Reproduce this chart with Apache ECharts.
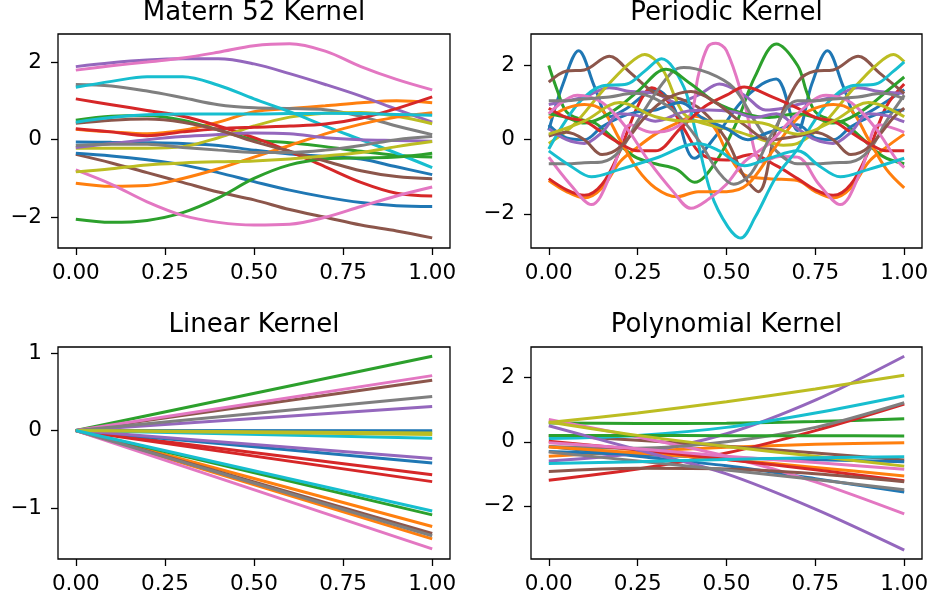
<!DOCTYPE html>
<html><head><meta charset="utf-8">
<script src="https://cdn.jsdelivr.net/npm/echarts@6/dist/echarts.min.js"></script>
<style>html,body{margin:0;padding:0;background:#fff}#c{width:933px;height:603px}</style>
</head><body><div id="c"></div>
<script>
// ---------- data ----------
const titles = ['Matern 52 Kernel', 'Periodic Kernel', 'Linear Kernel', 'Polynomial Kernel'];
const xTicks = [0, 0.25, 0.5, 0.75, 1];
const yTicks1 = [-2, 0, 2];
const yTicks2 = [-2, 0, 2];
const yTicks3 = [-1, 0, 1];
const yTicks4 = [-2, 0, 2];

// Matern 52 samples at x = 0, 0.1, ..., 1
const maternX = [0, 0.1, 0.2, 0.3, 0.4, 0.5, 0.6, 0.7, 0.8, 0.9, 1.0];
const m_blue_a   = [-0.06,-0.07,-0.08,-0.1,-0.15,-0.27,-0.37,-0.43,-0.5,-0.7,-0.9];
const m_orange_a = [0.27,0.2,0.15,0.24,0.45,0.72,0.8,0.87,0.95,1.0,0.95];
const m_green_a  = [0.5,0.6,0.62,0.5,0.25,0.0,-0.08,-0.18,-0.3,-0.4,-0.45];
const m_red_a    = [1.05,0.9,0.75,0.6,0.35,0.05,-0.3,-0.7,-1.1,-1.38,-1.45];
const m_purple_a = [1.88,1.98,2.05,2.08,2.08,1.95,1.7,1.42,1.12,0.78,0.45];
const m_brown_a  = [-0.38,-0.6,-0.85,-1.1,-1.35,-1.55,-1.8,-2.0,-2.2,-2.35,-2.53];
const m_pink_a   = [1.79,1.9,2.0,2.1,2.25,2.42,2.47,2.28,1.88,1.55,1.28];
const m_gray_a   = [1.42,1.38,1.25,1.08,0.9,0.82,0.8,0.77,0.6,0.35,0.13];
const m_olive_a  = [-0.22,-0.22,-0.22,-0.18,0.05,0.35,0.58,0.68,0.7,0.6,0.41];
const m_cyan_a   = [1.35,1.5,1.62,1.62,1.4,1.05,0.72,0.35,0.0,-0.35,-0.72];
const m_blue_b   = [-0.35,-0.42,-0.52,-0.65,-0.85,-1.08,-1.3,-1.48,-1.62,-1.7,-1.72];
const m_orange_b = [-1.12,-1.2,-1.18,-1.0,-0.75,-0.45,-0.15,0.15,0.4,0.58,0.69];
const m_green_b  = [-2.05,-2.13,-2.08,-1.88,-1.5,-1.0,-0.65,-0.5,-0.47,-0.45,-0.35];
const m_red_b    = [0.28,0.2,0.1,0.2,0.28,0.32,0.35,0.4,0.55,0.8,1.1];
const m_purple_b = [-0.2,-0.1,0.0,0.08,0.13,0.17,0.15,0.05,0.0,-0.02,-0.04];
const m_brown_b  = [0.42,0.5,0.53,0.45,0.25,-0.05,-0.3,-0.55,-0.8,-0.95,-1.01];
const m_pink_b   = [-0.78,-1.15,-1.6,-1.95,-2.13,-2.2,-2.18,-2.0,-1.72,-1.45,-1.22];
const m_gray_b   = [-0.15,-0.12,-0.12,-0.2,-0.27,-0.33,-0.33,-0.27,-0.15,0.0,0.08];
const m_olive_b  = [-0.83,-0.75,-0.65,-0.6,-0.57,-0.55,-0.5,-0.42,-0.33,-0.18,-0.05];
const m_cyan_b   = [0.45,0.57,0.64,0.66,0.66,0.66,0.67,0.68,0.67,0.65,0.63];

// Periodic samples as [x, y] pairs
const p_blue_a   = [[0,0.25],[0.04,1.5],[0.084,2.4],[0.13,1.4],[0.17,0.62],[0.22,0.85],[0.3,1.35],[0.35,0.9],[0.41,-0.5],[0.47,0.1],[0.54,1.0],[0.6,1.5],[0.64,1.64],[0.7,0.25],[0.74,1.5],[0.784,2.4],[0.83,1.4],[0.87,0.62],[0.92,0.85],[1.0,1.35]];
const p_orange_a = [[0,-1.1],[0.05,-1.4],[0.1,-1.57],[0.15,-1.3],[0.2,-0.6],[0.25,-0.2],[0.3,0.15],[0.35,0.4],[0.41,0.63],[0.46,0.4],[0.5,-0.3],[0.55,-0.95],[0.62,-1.05],[0.7,-1.1],[0.75,-1.4],[0.8,-1.57],[0.85,-1.3],[0.9,-0.6],[0.95,-0.2],[1.0,0.15]];
const p_green_a  = [[0,2.0],[0.025,1.3],[0.05,0.75],[0.09,0.55],[0.13,0.45],[0.18,0.05],[0.24,-0.45],[0.3,-0.65],[0.36,-0.8],[0.41,-1.15],[0.47,-0.6],[0.53,0.5],[0.58,1.7],[0.64,2.58],[0.7,2.0],[0.725,1.3],[0.75,0.75],[0.79,0.55],[0.83,0.45],[0.88,0.05],[0.94,-0.45],[1.0,-0.65]];
const p_red_a    = [[0,-1.05],[0.05,-1.35],[0.1,-1.5],[0.15,-1.2],[0.2,-0.3],[0.25,0.9],[0.29,1.4],[0.33,1.1],[0.38,0.3],[0.43,-0.4],[0.5,-0.55],[0.57,-0.4],[0.64,-0.7],[0.7,-1.05],[0.75,-1.35],[0.8,-1.5],[0.85,-1.2],[0.9,-0.3],[0.95,0.9],[1.0,1.5]];
const p_purple_a = [[0,0.95],[0.05,1.05],[0.1,1.15],[0.17,1.4],[0.23,1.3],[0.3,1.25],[0.36,1.0],[0.42,1.2],[0.48,1.5],[0.55,1.2],[0.61,0.8],[0.66,0.85],[0.7,0.95],[0.75,1.05],[0.8,1.15],[0.87,1.4],[0.93,1.3],[1.0,1.25]];
const p_brown_a  = [[0,1.55],[0.05,1.85],[0.1,1.88],[0.17,2.25],[0.23,1.8],[0.3,1.25],[0.37,1.1],[0.43,0.8],[0.5,0.0],[0.55,-1.0],[0.59,-1.4],[0.64,0.3],[0.7,1.55],[0.75,1.85],[0.8,1.88],[0.87,2.25],[0.93,1.8],[1.0,1.25]];
const p_pink_a   = [[0,-0.47],[0.06,-1.2],[0.12,-1.75],[0.18,-0.8],[0.23,0.4],[0.29,0.2],[0.35,0.3],[0.4,0.7],[0.42,1.7],[0.447,2.5],[0.47,2.6],[0.5,2.4],[0.55,1.0],[0.6,-0.6],[0.65,-0.45],[0.7,-0.47],[0.76,-1.2],[0.82,-1.75],[0.88,-0.8],[0.93,0.4],[1.0,0.2]];
const p_gray_a   = [[0,-0.65],[0.05,-0.65],[0.1,-0.62],[0.15,-0.6],[0.2,-0.3],[0.25,0.5],[0.3,1.25],[0.35,1.85],[0.38,1.95],[0.45,1.8],[0.52,1.4],[0.58,0.5],[0.64,-0.3],[0.7,-0.65],[0.75,-0.65],[0.8,-0.62],[0.85,-0.6],[0.9,-0.3],[0.95,0.5],[1.0,1.2]];
const p_olive_a  = [[0,-0.1],[0.07,0.4],[0.15,1.3],[0.22,2.0],[0.27,2.3],[0.32,1.9],[0.38,0.7],[0.45,0.4],[0.52,0.25],[0.6,0.0],[0.66,-0.15],[0.7,-0.1],[0.77,0.4],[0.85,1.3],[0.92,2.0],[0.97,2.3],[1.0,2.1]];
const p_cyan_a   = [[0,-0.25],[0.04,0.4],[0.09,1.05],[0.15,1.45],[0.22,1.5],[0.27,1.85],[0.317,2.18],[0.38,1.42],[0.41,0.34],[0.457,-1.46],[0.504,-2.35],[0.54,-2.65],[0.58,-2.1],[0.64,-1.0],[0.7,-0.25],[0.74,0.4],[0.79,1.05],[0.85,1.45],[0.92,1.5],[0.97,1.85],[1.0,2.1]];
const p_blue_b   = [[0,0.4],[0.05,0.05],[0.1,0.0],[0.15,0.35],[0.2,0.6],[0.25,0.75],[0.3,0.8],[0.37,1.0],[0.43,0.6],[0.5,0.3],[0.56,0.0],[0.62,0.2],[0.7,0.4],[0.75,0.05],[0.8,0.0],[0.85,0.35],[0.9,0.6],[0.95,0.75],[1.0,0.8]];
const p_orange_b = [[0,0.58],[0.05,0.85],[0.1,0.95],[0.15,0.8],[0.2,0.0],[0.25,-0.8],[0.3,-1.3],[0.36,-1.54],[0.42,-1.4],[0.5,-1.4],[0.56,-1.2],[0.63,-0.3],[0.7,0.58],[0.75,0.85],[0.8,0.95],[0.85,0.8],[0.9,0.0],[0.95,-0.8],[1.0,-1.3]];
const p_green_b  = [[0,0.7],[0.05,0.6],[0.1,0.45],[0.15,0.6],[0.2,0.9],[0.25,1.3],[0.33,1.9],[0.4,1.5],[0.47,1.0],[0.55,0.7],[0.62,0.6],[0.7,0.7],[0.75,0.6],[0.8,0.45],[0.85,0.6],[0.9,0.9],[0.95,1.3],[1.0,1.69]];
const p_red_b    = [[0,0.85],[0.05,0.6],[0.1,0.5],[0.15,0.2],[0.2,-0.1],[0.25,-0.3],[0.3,-0.3],[0.37,0.3],[0.44,0.9],[0.5,1.2],[0.55,1.42],[0.63,1.15],[0.7,0.85],[0.75,0.6],[0.8,0.5],[0.85,0.2],[0.9,-0.1],[0.95,-0.3],[1.0,-0.3]];
const p_purple_b = [[0,0.3],[0.05,0.0],[0.1,-0.1],[0.15,0.2],[0.2,0.7],[0.25,0.65],[0.3,0.5],[0.38,0.75],[0.45,0.8],[0.52,0.75],[0.58,0.6],[0.64,0.7],[0.7,0.3],[0.75,0.0],[0.8,-0.1],[0.85,0.2],[0.9,0.7],[0.95,0.65],[1.0,0.48]];
const p_brown_b  = [[0,0.1],[0.05,0.2],[0.1,0.0],[0.15,-0.4],[0.2,-0.2],[0.27,0.6],[0.33,1.1],[0.4,1.3],[0.47,1.0],[0.55,0.4],[0.62,0.0],[0.7,0.1],[0.75,0.2],[0.8,0.0],[0.85,-0.4],[0.9,-0.2],[0.97,0.6],[1.0,0.85]];
const p_pink_b   = [[0,0.7],[0.08,1.2],[0.15,1.0],[0.22,0.3],[0.28,-0.56],[0.35,-1.4],[0.4,-1.85],[0.45,-1.6],[0.5,-1.2],[0.55,-0.6],[0.62,-0.1],[0.7,0.7],[0.78,1.2],[0.85,1.0],[0.92,0.3],[0.98,-0.56],[1.0,-0.75]];
const p_gray_b   = [[0,1.05],[0.05,1.05],[0.1,1.1],[0.17,1.15],[0.24,1.25],[0.3,1.1],[0.36,0.7],[0.42,0.0],[0.48,-0.9],[0.52,-1.2],[0.57,-0.9],[0.63,0.2],[0.7,1.05],[0.75,1.05],[0.8,1.1],[0.87,1.15],[0.94,1.25],[1.0,1.1]];
const p_olive_b  = [[0,0.15],[0.1,0.5],[0.2,1.0],[0.3,0.62],[0.4,0.5],[0.5,0.5],[0.6,0.45],[0.7,0.15],[0.8,0.5],[0.9,1.0],[1.0,0.62]];
const p_cyan_b   = [[0,-0.3],[0.06,-0.7],[0.12,-1.0],[0.2,-0.8],[0.3,-0.5],[0.42,-0.1],[0.48,-0.3],[0.55,-0.7],[0.62,-0.5],[0.7,-0.3],[0.76,-0.7],[0.82,-1.0],[0.9,-0.8],[1.0,-0.5]];

// Linear samples: value at x = 1 (all start at 0 at x = 0)
const linearX = [0, 1];
const l_blue   = [-0.004, -0.42];
const l_orange = [-1.24, -1.40];
const l_green  = [0.96, -1.09];
const l_red    = [-0.57, -0.66];
const l_purple = [0.31, -0.36];
const l_brown  = [0.65, -1.33];
const l_pink   = [0.71, -1.53];
const l_gray   = [0.44, -1.36];
const l_olive  = [-0.03, -0.05];
const l_cyan   = [-0.10, -1.04];

// Polynomial samples at x = 0, 0.25, 0.5, 0.75, 1
const polyX = [0, 0.25, 0.5, 0.75, 1];
const q_blue_a   = [-0.15,-0.45,-0.75,-1.15,-1.57];
const q_orange_a = [-0.45,-0.3,-0.17,-0.08,-0.03];
const q_green_a  = [0.59,0.57,0.58,0.63,0.72];
const q_red_a    = [-1.2,-0.85,-0.35,0.35,1.18];
const q_purple_a = [-0.6,-0.35,0.25,1.3,2.67];
const q_brown_a  = [0.2,0.05,-0.14,-0.35,-0.57];
const q_pink_a   = [0.7,0.15,-0.45,-1.25,-2.25];
const q_gray_a   = [-0.15,-0.2,0.0,0.45,1.22];
const q_olive_a  = [0.6,0.9,1.25,1.65,2.08];
const q_cyan_a   = [0.1,0.2,0.45,0.9,1.44];
const q_blue_b   = [-0.3,-0.4,-0.5,-0.56,-0.62];
const q_orange_b = [-0.16,-0.35,-0.55,-0.8,-1.07];
const q_green_b  = [0.2,0.2,0.19,0.19,0.18];
const q_red_b    = [0.02,-0.25,-0.55,-0.87,-1.22];
const q_purple_b = [0.5,-0.25,-1.0,-2.1,-3.38];
const q_brown_b  = [-0.93,-0.83,-0.85,-1.0,-1.25];
const q_pink_b   = [-0.03,-0.22,-0.45,-0.65,-0.86];
const q_gray_b   = [-0.32,-0.6,-0.88,-1.18,-1.5];
const q_olive_b  = [0.62,0.2,-0.15,-0.45,-0.76];
const q_cyan_b   = [-0.68,-0.62,-0.55,-0.5,-0.47];

// ---------- chart ----------
const TAB10 = ['#1f77b4','#ff7f0e','#2ca02c','#d62728','#9467bd','#8c564b','#e377c2','#7f7f7f','#bcbd22','#17becf'];
const FONT = '"DejaVu Sans", sans-serif';

const maternSets = [m_blue_a,m_orange_a,m_green_a,m_red_a,m_purple_a,m_brown_a,m_pink_a,m_gray_a,m_olive_a,m_cyan_a,
                    m_blue_b,m_orange_b,m_green_b,m_red_b,m_purple_b,m_brown_b,m_pink_b,m_gray_b,m_olive_b,m_cyan_b];
const periodicSets = [p_blue_a,p_orange_a,p_green_a,p_red_a,p_purple_a,p_brown_a,p_pink_a,p_gray_a,p_olive_a,p_cyan_a,
                      p_blue_b,p_orange_b,p_green_b,p_red_b,p_purple_b,p_brown_b,p_pink_b,p_gray_b,p_olive_b,p_cyan_b];
const linearByColor = [l_blue,l_orange,l_green,l_red,l_purple,l_brown,l_pink,l_gray,l_olive,l_cyan];
const polySets = [q_blue_a,q_orange_a,q_green_a,q_red_a,q_purple_a,q_brown_a,q_pink_a,q_gray_a,q_olive_a,q_cyan_a,
                  q_blue_b,q_orange_b,q_green_b,q_red_b,q_purple_b,q_brown_b,q_pink_b,q_gray_b,q_olive_b,q_cyan_b];

const grids = [
  {left: 58, top: 34, width: 392, height: 214},
  {left: 531, top: 34, width: 391, height: 214},
  {left: 58, top: 347, width: 392, height: 212},
  {left: 531, top: 347, width: 391, height: 212}
].map(g => Object.assign({show: true, borderColor: '#000', borderWidth: 1.3, backgroundColor: 'transparent', containLabel: false}, g));

const yRanges = [[-2.79, 2.72], [-2.92, 2.85], [-1.66, 1.08], [-3.66, 2.96]];
const yTickSets = [yTicks1, yTicks2, yTicks3, yTicks4];

const labelStyle = {fontSize: 21.5, color: '#000', fontFamily: FONT};
const xAxes = grids.map((g, i) => ({
  type: 'value', gridIndex: i, min: -0.05, max: 1.05,
  splitLine: {show: false},
  axisLine: {show: false, onZero: false},
  axisTick: {show: true, length: 7, inside: false, customValues: xTicks, lineStyle: {color: '#000', width: 1.3}},
  axisLabel: Object.assign({customValues: xTicks, margin: 14, formatter: v => v.toFixed(2)}, labelStyle)
}));
const yAxes = grids.map((g, i) => ({
  type: 'value', gridIndex: i, min: yRanges[i][0], max: yRanges[i][1],
  splitLine: {show: false},
  axisLine: {show: false, onZero: false},
  axisTick: {show: true, length: 7, inside: false, customValues: yTickSets[i], lineStyle: {color: '#000', width: 1.3}},
  axisLabel: Object.assign({customValues: yTickSets[i], margin: 16,
    formatter: v => (v < 0 ? '\u2212' : '') + Math.abs(Math.round(v))}, labelStyle)
}));

function lineSeries(idx, data, color, smooth) {
  return {type: 'line', xAxisIndex: idx, yAxisIndex: idx, data: data, showSymbol: false, symbol: 'none',
          smooth: smooth, lineStyle: {color: color, width: 3}, itemStyle: {color: color},
          emphasis: {disabled: true}, silent: true, animation: false, clip: true};
}

const series = [];
maternSets.forEach((arr, i) => series.push(lineSeries(0, maternX.map((x, k) => [x, arr[k]]), TAB10[i % 10], 0.35)));
periodicSets.forEach((arr, i) => series.push(lineSeries(1, arr, TAB10[i % 10], 0.35)));
for (let s = 0; s < 2; s++) {
  linearByColor.forEach((pair, c) => series.push(lineSeries(2, [[linearX[0], 0], [linearX[1], pair[s]]], TAB10[c], false)));
}
polySets.forEach((arr, i) => series.push(lineSeries(3, polyX.map((x, k) => [x, arr[k]]), TAB10[i % 10], 0.3)));

const centers = [254, 726.5, 254, 726.5];
const titleY = [13, 13, 325, 325];
const graphic = titles.map((t, i) => ({
  type: 'text', x: centers[i], y: titleY[i], silent: true,
  style: {text: t, fill: '#000', font: '26px ' + FONT, fontSize: 26, fontFamily: FONT,
          align: 'center', textAlign: 'center', verticalAlign: 'middle', textVerticalAlign: 'middle'}
}));

const chart = echarts.init(document.getElementById('c'), null, {renderer: 'canvas'});
chart.setOption({
  animation: false,
  backgroundColor: '#fff',
  grid: grids, xAxis: xAxes, yAxis: yAxes,
  series: series, graphic: graphic
});
</script></body></html>
